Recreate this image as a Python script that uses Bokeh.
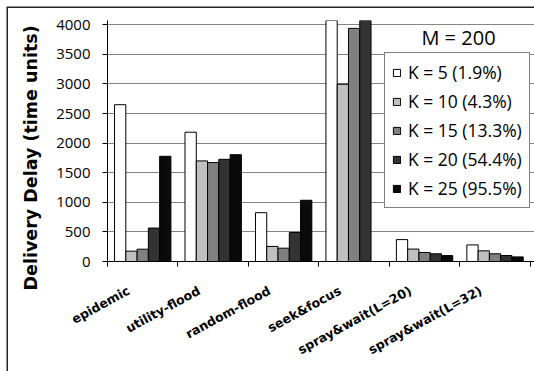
import math
from bokeh.plotting import figure
from bokeh.models import Range1d, FixedTicker, Label, Legend, LegendItem, Title
from bokeh.embed import file_html
from bokeh.resources import INLINE

categories = ["epidemic", "utility-flood", "random-flood", "seek&focus",
              "spray&wait(L=20)", "spray&wait(L=32)"]
series_names = ["K = 5 (1.9%)", "K = 10 (4.3%)", "K = 15 (13.3%)",
                "K = 20 (54.4%)", "K = 25 (95.5%)"]
k5 = [2650, 2185, 825, 4600, 370, 280]
k10 = [175, 1700, 255, 2995, 210, 180]
k15 = [208, 1672, 225, 3940, 152, 130]
k20 = [565, 1727, 490, 4300, 130, 101]
k25 = [1778, 1805, 1035, float("nan"), 100, 78]
series = [k5, k10, k15, k20, k25]
colors = ["#ffffff", "#c0c0c0", "#808080", "#333333", "#0a0a0a"]
y_ticks = [0, 500, 1000, 1500, 2000, 2500, 3000, 3500, 4000]

FONT = "Open Sans"
WIDE = "DejaVu Sans"

p = figure(width=534, height=371, output_backend="svg", toolbar_location=None,
           x_range=Range1d(0, 6.06), y_range=Range1d(0, 4073),
           min_border_left=107, min_border_right=0, min_border_top=20,
           min_border_bottom=110)
p.border_fill_color = None
p.background_fill_color = "#ffffff"
p.styles = {"background": "#ffffff",
            "box-shadow": "inset 6.5px 6.5px 0px 0px #ffffff, inset 8px 8px 0px 0px #222222"}
p.outline_line_color = None
p.xgrid.visible = False
p.ygrid.grid_line_color = "#858585"
p.ygrid.grid_line_width = 1

bw = 0.16
renderers = []
for j, (vals, col) in enumerate(zip(series, colors)):
    xs = [i + 0.5 + (j - 2) * bw for i in range(len(categories))]
    r = p.vbar(x=xs, top=vals, bottom=0, width=bw, fill_color=col,
               line_color="#000000", line_width=1)
    renderers.append(r)

# x axis: category names near centers, ticks at boundaries (minor ticks)
centers = [i + 0.5 - 0.2 for i in range(len(categories))]
p.xaxis.ticker = FixedTicker(ticks=centers, minor_ticks=list(range(len(categories) + 1)))
p.xaxis.major_label_overrides = {c: name for c, name in zip(centers, categories)}
p.xaxis.major_tick_line_color = None
p.xaxis.minor_tick_out = 5
p.xaxis.minor_tick_in = 0
p.xaxis.minor_tick_line_color = "#000000"
p.xaxis.axis_line_color = "#000000"
p.xaxis.major_label_orientation = 0.5
p.xaxis.major_label_text_font = WIDE
p.xaxis.major_label_text_font_style = "bold"
p.xaxis.major_label_text_font_size = "12.5px"
p.xaxis.major_label_text_color = "#000000"
p.xaxis.major_label_standoff = 22

p.yaxis.ticker = FixedTicker(ticks=y_ticks)
p.yaxis.minor_tick_line_color = None
p.yaxis.major_tick_out = 5
p.yaxis.major_tick_in = 0
p.yaxis.axis_line_color = "#000000"
p.yaxis.major_tick_line_color = "#000000"
p.yaxis.major_label_text_font = FONT
p.yaxis.major_label_text_font_size = "15px"
p.yaxis.major_label_text_color = "#000000"
p.yaxis.major_label_standoff = 12

ytitle = Title(text="Delivery Delay (time units)", align="left", offset=-29,
               text_font=WIDE, text_font_style="bold", text_font_size="17.5px",
               text_color="#000000", standoff=25)
p.add_layout(ytitle, "left")

p.add_layout(Label(x=351, y=224, x_units="screen", y_units="screen",
                   text="M = 200", text_align="center", text_baseline="middle",
                   text_font=FONT, text_font_size="20px", text_color="#000000"))

legend = Legend(items=[LegendItem(label=n, renderers=[r]) for n, r in zip(series_names, renderers)],
                location=(277, 53), glyph_width=9, glyph_height=9, label_standoff=7,
                label_height=20, spacing=5, padding=7, margin=0,
                label_text_font=FONT, label_text_font_size="17.5px",
                label_text_color="#000000", border_line_color="#000000",
                border_line_width=1, background_fill_alpha=1.0)
p.add_layout(legend)

open("out.html", "w").write(file_html(p, INLINE))
